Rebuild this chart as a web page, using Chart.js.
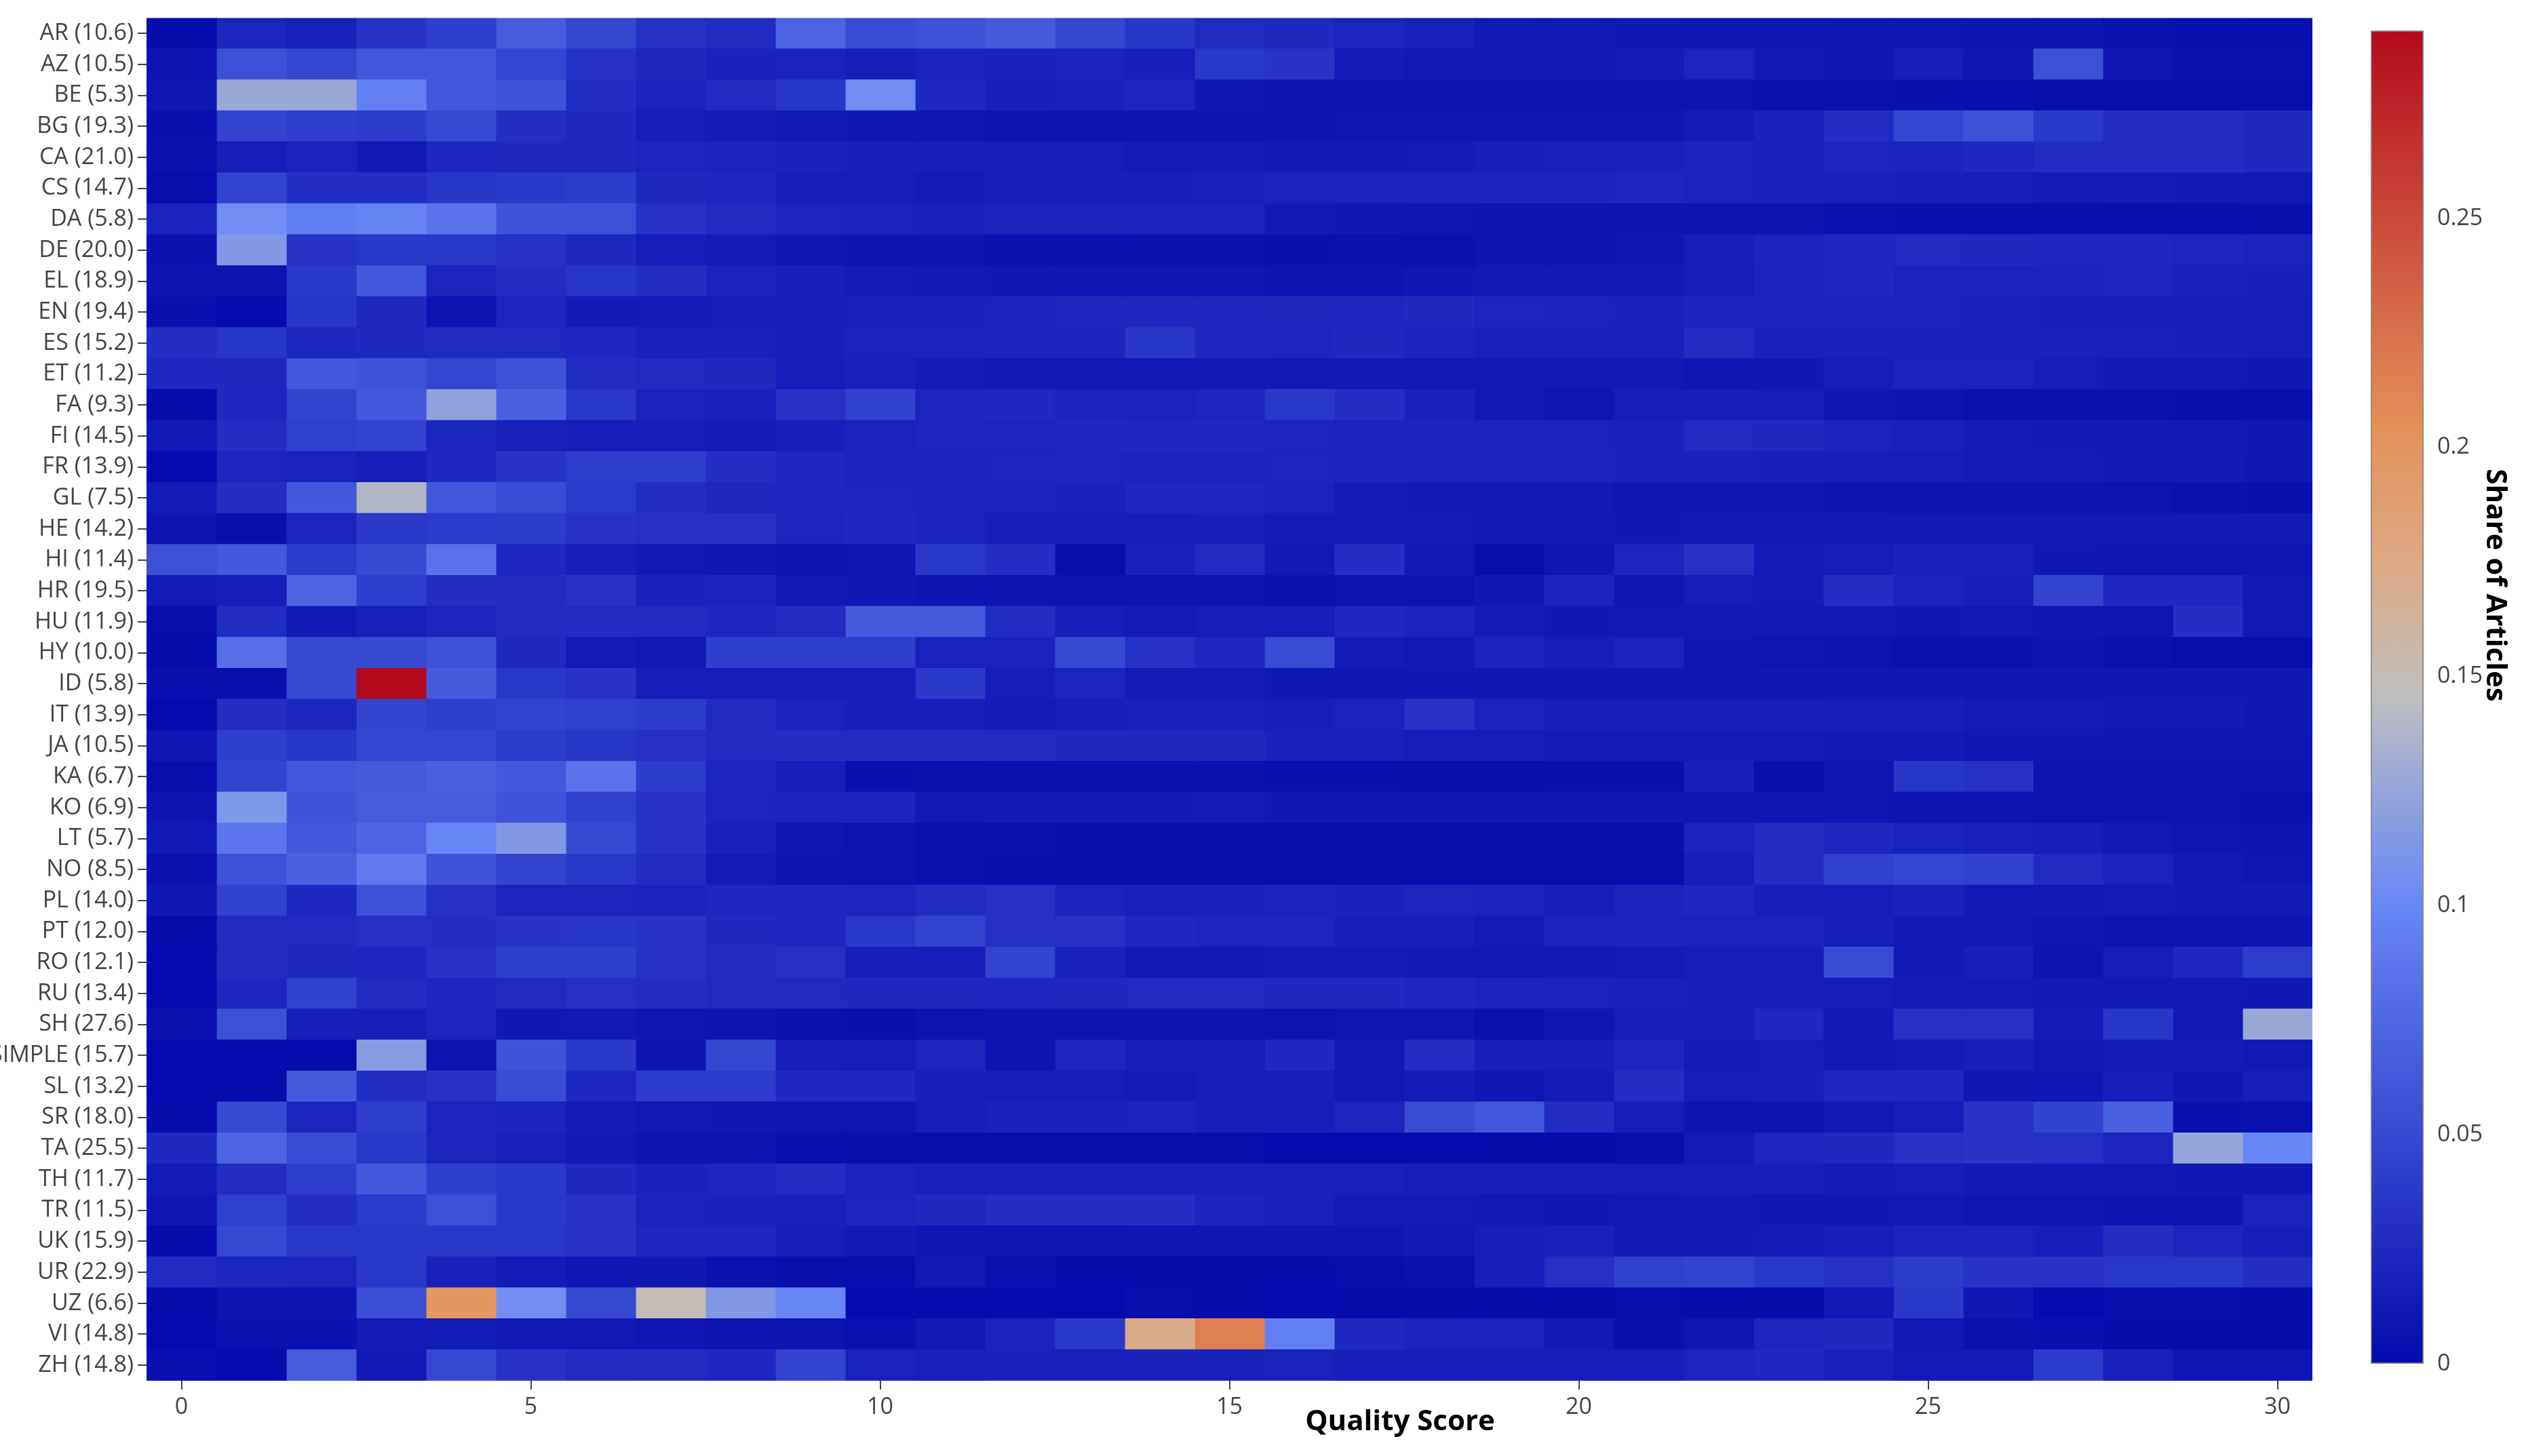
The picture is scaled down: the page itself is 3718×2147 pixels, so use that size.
<!DOCTYPE html>
<html>
<head>
<meta charset="utf-8">
<title>Quality Score by Language</title>
<script src="https://cdn.jsdelivr.net/npm/chart.js@4.4.1/dist/chart.umd.min.js"></script>
<style>
  html, body { margin: 0; padding: 0; background: #fff; }
  #wrap { position: relative; width: 3718px; height: 2147px; }
  #heatmap { position: absolute; left: 0; top: 0; }
  #colorbar { position: absolute; left: 3440px; top: 0; }
</style>
</head>
<body>
<div id="wrap">
  <canvas id="heatmap" width="3718" height="2147"></canvas>
  <canvas id="colorbar" width="278" height="2147"></canvas>
</div>
<script>
// languages (rows, top to bottom) with their mean quality score
const languages = [
  'AR (10.6)', 'AZ (10.5)', 'BE (5.3)', 'BG (19.3)', 'CA (21.0)', 'CS (14.7)', 'DA (5.8)',
  'DE (20.0)', 'EL (18.9)', 'EN (19.4)', 'ES (15.2)', 'ET (11.2)', 'FA (9.3)', 'FI (14.5)',
  'FR (13.9)', 'GL (7.5)', 'HE (14.2)', 'HI (11.4)', 'HR (19.5)', 'HU (11.9)', 'HY (10.0)',
  'ID (5.8)', 'IT (13.9)', 'JA (10.5)', 'KA (6.7)', 'KO (6.9)', 'LT (5.7)', 'NO (8.5)',
  'PL (14.0)', 'PT (12.0)', 'RO (12.1)', 'RU (13.4)', 'SH (27.6)', 'SIMPLE (15.7)', 'SL (13.2)',
  'SR (18.0)', 'TA (25.5)', 'TH (11.7)', 'TR (11.5)', 'UK (15.9)', 'UR (22.9)', 'UZ (6.6)',
  'VI (14.8)', 'ZH (14.8)'
];

// quality score columns
const scores = [0, 1, 2, 3, 4, 5, 6, 7, 8, 9, 10, 11, 12, 13, 14, 15,
  16, 17, 18, 19, 20, 21, 22, 23, 24, 25, 26, 27, 28, 29, 30];

const scoreTicks = [0, 5, 10, 15, 20, 25, 30];
const shareTicks = [0, 0.05, 0.1, 0.15, 0.2, 0.25];
const shareMax = 0.291;

// share of articles, one row per language, one value per score 0..30
const shares = [
  [0.002,0.022,0.018,0.032,0.042,0.065,0.048,0.032,0.028,0.072,0.052,0.057,0.064,0.048,0.036,0.026,0.025,0.022,0.018,0.013,0.012,0.011,0.010,0.010,0.009,0.009,0.008,0.008,0.006,0.005,0.005], // AR
  [0.008,0.055,0.047,0.060,0.060,0.047,0.033,0.025,0.019,0.020,0.016,0.021,0.019,0.021,0.017,0.038,0.034,0.014,0.012,0.012,0.012,0.014,0.022,0.013,0.011,0.016,0.010,0.055,0.010,0.006,0.006], // AZ
  [0.010,0.127,0.127,0.095,0.062,0.058,0.028,0.020,0.026,0.035,0.105,0.024,0.017,0.019,0.022,0.011,0.008,0.007,0.007,0.007,0.008,0.008,0.008,0.006,0.006,0.005,0.004,0.003,0.004,0.004,0.003], // BE
  [0.005,0.046,0.042,0.040,0.050,0.030,0.025,0.016,0.014,0.013,0.011,0.010,0.008,0.008,0.008,0.008,0.008,0.009,0.009,0.009,0.009,0.010,0.014,0.019,0.028,0.047,0.058,0.038,0.028,0.027,0.025], // BG
  [0.006,0.016,0.021,0.013,0.024,0.025,0.025,0.022,0.020,0.019,0.017,0.016,0.015,0.015,0.014,0.014,0.013,0.013,0.014,0.016,0.018,0.018,0.020,0.018,0.022,0.021,0.024,0.028,0.028,0.028,0.025], // CA
  [0.003,0.046,0.030,0.030,0.036,0.038,0.040,0.025,0.023,0.016,0.016,0.014,0.016,0.016,0.017,0.018,0.020,0.020,0.020,0.021,0.021,0.022,0.020,0.019,0.018,0.017,0.016,0.014,0.014,0.013,0.012], // CS
  [0.020,0.105,0.093,0.097,0.085,0.058,0.056,0.032,0.027,0.022,0.020,0.019,0.021,0.021,0.020,0.020,0.012,0.010,0.009,0.008,0.008,0.008,0.008,0.007,0.006,0.005,0.005,0.005,0.004,0.004,0.004], // DA
  [0.006,0.114,0.032,0.037,0.037,0.033,0.025,0.016,0.014,0.010,0.008,0.008,0.006,0.006,0.006,0.006,0.005,0.006,0.006,0.008,0.008,0.010,0.016,0.021,0.024,0.026,0.025,0.024,0.023,0.022,0.020], // DE
  [0.008,0.008,0.038,0.062,0.022,0.029,0.035,0.030,0.020,0.017,0.014,0.013,0.011,0.010,0.010,0.010,0.008,0.008,0.010,0.012,0.012,0.013,0.016,0.020,0.024,0.020,0.020,0.021,0.022,0.019,0.017], // EL
  [0.005,0.001,0.036,0.025,0.007,0.022,0.013,0.014,0.015,0.016,0.018,0.019,0.020,0.024,0.024,0.024,0.025,0.023,0.025,0.022,0.020,0.019,0.021,0.020,0.020,0.020,0.019,0.017,0.016,0.016,0.016], // EN
  [0.030,0.036,0.023,0.025,0.027,0.026,0.024,0.019,0.018,0.017,0.020,0.021,0.021,0.021,0.036,0.024,0.022,0.025,0.021,0.018,0.018,0.018,0.027,0.019,0.019,0.019,0.019,0.018,0.018,0.017,0.016], // ES
  [0.024,0.025,0.062,0.058,0.047,0.057,0.029,0.027,0.025,0.015,0.018,0.014,0.012,0.012,0.012,0.012,0.012,0.012,0.012,0.012,0.012,0.012,0.010,0.011,0.015,0.020,0.020,0.015,0.013,0.012,0.011], // ET
  [0.002,0.024,0.046,0.062,0.122,0.070,0.037,0.020,0.018,0.032,0.045,0.022,0.024,0.021,0.020,0.022,0.037,0.029,0.019,0.012,0.009,0.016,0.016,0.016,0.010,0.008,0.006,0.006,0.006,0.005,0.005], // FA
  [0.012,0.029,0.043,0.046,0.023,0.018,0.016,0.016,0.014,0.017,0.020,0.022,0.022,0.023,0.023,0.023,0.022,0.021,0.021,0.020,0.020,0.018,0.026,0.025,0.020,0.018,0.014,0.013,0.013,0.012,0.011], // FI
  [0.001,0.022,0.021,0.016,0.024,0.034,0.041,0.041,0.030,0.023,0.021,0.021,0.022,0.022,0.021,0.021,0.022,0.021,0.021,0.021,0.021,0.019,0.019,0.017,0.016,0.015,0.014,0.014,0.013,0.013,0.011], // FR
  [0.014,0.030,0.062,0.139,0.062,0.052,0.039,0.029,0.025,0.023,0.022,0.021,0.021,0.019,0.023,0.023,0.020,0.014,0.013,0.012,0.012,0.009,0.009,0.009,0.008,0.007,0.007,0.007,0.007,0.006,0.005], // GL
  [0.008,0.004,0.022,0.037,0.039,0.040,0.033,0.031,0.033,0.022,0.024,0.020,0.016,0.016,0.016,0.017,0.014,0.014,0.014,0.012,0.012,0.011,0.012,0.013,0.013,0.013,0.013,0.013,0.013,0.013,0.013], // HE
  [0.056,0.062,0.039,0.050,0.084,0.024,0.016,0.012,0.010,0.007,0.009,0.037,0.030,0.003,0.018,0.026,0.012,0.030,0.012,0.004,0.010,0.022,0.031,0.014,0.015,0.019,0.018,0.011,0.009,0.009,0.009], // HI
  [0.014,0.016,0.072,0.041,0.030,0.029,0.033,0.019,0.021,0.012,0.010,0.008,0.008,0.008,0.007,0.007,0.006,0.007,0.007,0.011,0.021,0.010,0.015,0.014,0.028,0.020,0.016,0.046,0.024,0.024,0.012], // HR
  [0.003,0.028,0.012,0.018,0.022,0.028,0.027,0.026,0.023,0.028,0.064,0.064,0.028,0.016,0.014,0.015,0.016,0.024,0.020,0.014,0.011,0.012,0.012,0.012,0.012,0.011,0.012,0.010,0.009,0.030,0.012], // HU
  [0.002,0.082,0.050,0.050,0.058,0.025,0.014,0.012,0.042,0.042,0.042,0.020,0.020,0.051,0.032,0.024,0.052,0.014,0.012,0.020,0.016,0.020,0.010,0.009,0.007,0.006,0.006,0.008,0.006,0.003,0.003], // HY
  [0.005,0.004,0.050,0.291,0.064,0.037,0.033,0.015,0.015,0.017,0.017,0.038,0.015,0.022,0.014,0.014,0.011,0.011,0.011,0.011,0.011,0.011,0.011,0.011,0.011,0.011,0.011,0.011,0.011,0.011,0.011], // ID
  [0.001,0.029,0.024,0.046,0.042,0.046,0.043,0.040,0.027,0.020,0.017,0.016,0.014,0.016,0.018,0.018,0.016,0.020,0.032,0.020,0.017,0.017,0.017,0.017,0.016,0.016,0.014,0.014,0.013,0.013,0.011], // IT
  [0.010,0.042,0.036,0.047,0.047,0.040,0.036,0.031,0.028,0.028,0.028,0.028,0.026,0.025,0.025,0.025,0.019,0.018,0.015,0.015,0.014,0.014,0.014,0.014,0.013,0.013,0.011,0.011,0.010,0.010,0.010], // JA
  [0.003,0.046,0.061,0.064,0.068,0.062,0.085,0.040,0.023,0.016,0.005,0.006,0.006,0.006,0.006,0.006,0.005,0.005,0.004,0.004,0.005,0.005,0.017,0.004,0.009,0.035,0.032,0.007,0.008,0.007,0.008], // KA
  [0.008,0.113,0.058,0.065,0.066,0.058,0.044,0.033,0.022,0.021,0.021,0.012,0.013,0.013,0.013,0.014,0.011,0.011,0.011,0.011,0.011,0.011,0.010,0.010,0.009,0.008,0.008,0.007,0.007,0.007,0.006], // KO
  [0.013,0.087,0.062,0.073,0.100,0.115,0.050,0.033,0.018,0.009,0.007,0.006,0.006,0.005,0.005,0.005,0.004,0.004,0.004,0.004,0.004,0.004,0.020,0.027,0.024,0.020,0.018,0.016,0.012,0.009,0.008], // LT
  [0.006,0.057,0.070,0.090,0.058,0.046,0.037,0.029,0.014,0.008,0.007,0.006,0.004,0.004,0.004,0.004,0.003,0.003,0.003,0.003,0.003,0.003,0.016,0.029,0.044,0.047,0.044,0.027,0.020,0.012,0.010], // NO
  [0.011,0.045,0.024,0.057,0.031,0.022,0.022,0.021,0.023,0.023,0.022,0.027,0.031,0.020,0.018,0.018,0.020,0.019,0.022,0.020,0.016,0.021,0.023,0.017,0.016,0.019,0.013,0.013,0.014,0.013,0.013], // PL
  [0.002,0.028,0.027,0.031,0.030,0.034,0.036,0.034,0.025,0.024,0.037,0.046,0.031,0.031,0.023,0.022,0.022,0.017,0.017,0.014,0.020,0.020,0.020,0.020,0.017,0.013,0.012,0.010,0.008,0.008,0.008], // PT
  [0.001,0.027,0.025,0.024,0.033,0.042,0.042,0.033,0.027,0.031,0.017,0.017,0.046,0.018,0.012,0.012,0.014,0.014,0.013,0.012,0.013,0.014,0.015,0.015,0.052,0.013,0.017,0.008,0.015,0.024,0.041], // RO
  [0.001,0.023,0.045,0.028,0.023,0.027,0.031,0.029,0.026,0.026,0.025,0.025,0.024,0.025,0.026,0.026,0.025,0.025,0.023,0.021,0.020,0.018,0.017,0.015,0.015,0.014,0.014,0.013,0.012,0.012,0.011], // RU
  [0.006,0.056,0.016,0.016,0.022,0.011,0.012,0.009,0.008,0.006,0.005,0.007,0.008,0.008,0.008,0.008,0.007,0.009,0.009,0.006,0.009,0.016,0.016,0.024,0.013,0.031,0.031,0.014,0.036,0.012,0.127], // SH
  [0.001,0.001,0.001,0.117,0.008,0.058,0.037,0.008,0.048,0.016,0.015,0.022,0.008,0.022,0.016,0.016,0.024,0.013,0.028,0.017,0.017,0.022,0.014,0.015,0.012,0.014,0.016,0.012,0.014,0.014,0.012], // SIMPLE
  [0.001,0.001,0.064,0.029,0.033,0.052,0.024,0.039,0.039,0.024,0.024,0.017,0.015,0.015,0.014,0.015,0.016,0.012,0.014,0.010,0.014,0.028,0.015,0.017,0.023,0.024,0.011,0.010,0.017,0.011,0.016], // SL
  [0.002,0.050,0.022,0.042,0.022,0.021,0.014,0.012,0.011,0.009,0.009,0.016,0.019,0.019,0.020,0.016,0.016,0.022,0.052,0.061,0.028,0.015,0.008,0.007,0.012,0.015,0.033,0.045,0.070,0.005,0.006], // SR
  [0.025,0.072,0.052,0.037,0.022,0.018,0.013,0.008,0.008,0.004,0.004,0.003,0.003,0.003,0.003,0.003,0.001,0.001,0.001,0.002,0.002,0.004,0.014,0.022,0.025,0.031,0.034,0.031,0.022,0.124,0.100], // TA
  [0.014,0.028,0.042,0.062,0.042,0.038,0.025,0.019,0.022,0.028,0.020,0.018,0.018,0.018,0.018,0.018,0.018,0.018,0.016,0.016,0.016,0.015,0.015,0.016,0.014,0.015,0.013,0.013,0.012,0.011,0.010], // TH
  [0.010,0.043,0.030,0.039,0.055,0.038,0.033,0.021,0.019,0.018,0.022,0.025,0.030,0.030,0.030,0.021,0.018,0.014,0.014,0.012,0.011,0.012,0.013,0.011,0.011,0.012,0.009,0.009,0.008,0.008,0.020], // TR
  [0.002,0.049,0.037,0.037,0.037,0.037,0.034,0.024,0.023,0.016,0.013,0.010,0.009,0.009,0.010,0.010,0.010,0.010,0.013,0.016,0.018,0.012,0.013,0.014,0.016,0.020,0.020,0.016,0.029,0.022,0.016], // UK
  [0.027,0.023,0.022,0.037,0.019,0.014,0.010,0.011,0.006,0.003,0.003,0.012,0.006,0.002,0.002,0.002,0.002,0.004,0.006,0.016,0.031,0.044,0.046,0.038,0.031,0.040,0.034,0.033,0.037,0.037,0.030], // UR
  [0.002,0.008,0.008,0.054,0.198,0.106,0.049,0.150,0.114,0.100,0.001,0.001,0.001,0.001,0.003,0.002,0.001,0.002,0.002,0.002,0.002,0.003,0.002,0.002,0.012,0.037,0.011,0.001,0.004,0.003,0.002], // UZ
  [0.001,0.006,0.006,0.014,0.014,0.012,0.012,0.010,0.008,0.007,0.006,0.012,0.020,0.038,0.172,0.215,0.095,0.024,0.020,0.020,0.013,0.005,0.009,0.022,0.025,0.012,0.006,0.005,0.002,0.002,0.002], // VI
  [0.005,0.001,0.065,0.013,0.049,0.033,0.027,0.026,0.023,0.046,0.020,0.018,0.019,0.019,0.019,0.019,0.020,0.017,0.017,0.015,0.015,0.017,0.022,0.024,0.019,0.014,0.014,0.039,0.018,0.010,0.010]  // ZH
];

// blue -> grey -> red colour scale, positions are fractions of shareMax
const colorStops = [
  [0, [5, 10, 172]],
  [0.35, [106, 137, 247]],
  [0.5, [190, 190, 190]],
  [0.6, [220, 170, 132]],
  [0.7, [230, 145, 90]],
  [1, [178, 10, 28]]
];

const fontFamily = '"Open Sans", "Liberation Sans", Arial, sans-serif';

function shareColor(v) {
  const t = Math.max(0, Math.min(1, v / shareMax));
  for (let i = 1; i < colorStops.length; i++) {
    const [t0, c0] = colorStops[i - 1];
    const [t1, c1] = colorStops[i];
    if (t <= t1) {
      const f = (t - t0) / (t1 - t0);
      const rgb = c0.map((c, k) => Math.round(c + f * (c1[k] - c)));
      return 'rgb(' + rgb.join(',') + ')';
    }
  }
  return 'rgb(178,10,28)';
}

// draws one free-standing axis title
const axisTitle = {
  id: 'axisTitle',
  afterDraw(chart, args, opts) {
    const ctx = chart.ctx;
    ctx.save();
    ctx.font = 'bold 42px ' + fontFamily;
    ctx.fillStyle = '#000';
    ctx.textAlign = 'center';
    ctx.textBaseline = 'middle';
    ctx.translate(opts.x, opts.y);
    ctx.rotate(opts.rotation || 0);
    ctx.fillText(opts.text, 0, 0);
    ctx.restore();
  }
};

const tickFont = { family: fontFamily, size: 34 };

// heatmap: one floating bar dataset per score column
new Chart(document.getElementById('heatmap'), {
  type: 'bar',
  plugins: [axisTitle],
  data: {
    labels: languages,
    datasets: scores.map((score, col) => ({
      label: 'Score ' + score,
      data: languages.map(() => [score - 0.5, score + 0.5]),
      backgroundColor: shares.map(row => shareColor(row[col])),
      borderWidth: 0,
      grouped: false,
      barPercentage: 1,
      categoryPercentage: 1,
      inflateAmount: 0.6
    }))
  },
  options: {
    indexAxis: 'y',
    responsive: false,
    animation: false,
    layout: { padding: { left: 0, right: 309, top: 21, bottom: 0 } },
    plugins: {
      legend: { display: false },
      tooltip: { enabled: false },
      axisTitle: { text: 'Quality Score', x: 2064, y: 2097 }
    },
    scales: {
      x: {
        type: 'linear',
        min: -0.5,
        max: 30.5,
        afterBuildTicks: s => { s.ticks = scoreTicks.map(v => ({ value: v })); },
        afterFit: s => { s.height = 111; },
        ticks: { color: '#444', font: tickFont, padding: 6, maxRotation: 0 },
        grid: { drawOnChartArea: false, tickLength: 13, color: '#444', lineWidth: 2 },
        border: { display: false }
      },
      y: {
        type: 'category',
        afterFit: s => { s.width = 216; },
        ticks: { color: '#444', font: tickFont, padding: 6, autoSkip: false },
        grid: { offset: false, drawOnChartArea: false, tickLength: 13, color: '#444', lineWidth: 2 },
        border: { display: false }
      }
    }
  }
});

// colour bar: a single bar from 0 to shareMax filled with the scale
function barGradient(chart) {
  const y = chart.scales.y;
  if (!chart.chartArea || !y) return 'rgb(5,10,172)';
  const g = chart.ctx.createLinearGradient(0, y.getPixelForValue(0), 0, y.getPixelForValue(shareMax));
  colorStops.forEach(([t, c]) => g.addColorStop(t, 'rgb(' + c.join(',') + ')'));
  return g;
}

new Chart(document.getElementById('colorbar'), {
  type: 'bar',
  plugins: [axisTitle],
  data: {
    labels: ['Share of Articles'],
    datasets: [{
      data: [[0, shareMax]],
      backgroundColor: c => barGradient(c.chart),
      borderColor: '#888',
      borderWidth: 2,
      borderSkipped: false,
      barPercentage: 1,
      categoryPercentage: 1
    }]
  },
  options: {
    responsive: false,
    animation: false,
    layout: { padding: { left: 55, right: 0, top: 45, bottom: 136 } },
    plugins: {
      legend: { display: false },
      tooltip: { enabled: false },
      axisTitle: { text: 'Share of Articles', x: 238, y: 863, rotation: Math.PI / 2 }
    },
    scales: {
      x: { display: false },
      y: {
        position: 'right',
        min: 0,
        max: shareMax,
        afterBuildTicks: s => { s.ticks = shareTicks.map(v => ({ value: v })); },
        afterFit: s => { s.width = 145; },
        ticks: { color: '#444', font: tickFont, padding: 12, callback: v => String(+v.toFixed(2)) },
        grid: { display: false },
        border: { display: false }
      }
    }
  }
});
</script>
</body>
</html>
